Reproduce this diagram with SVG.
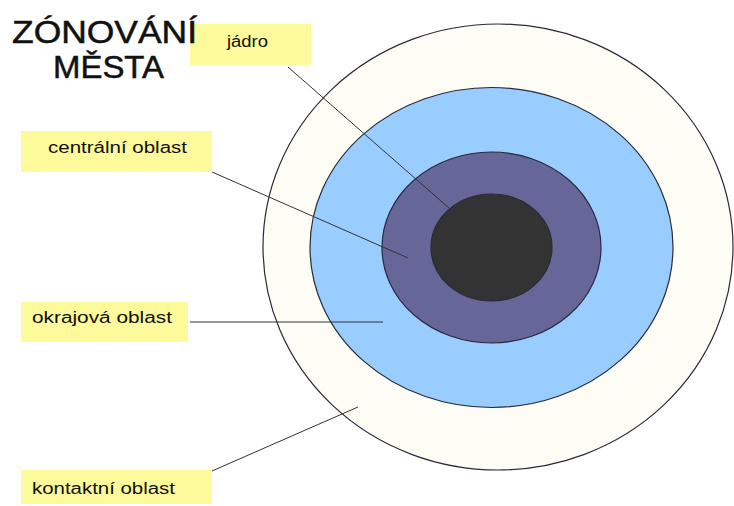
<svg xmlns="http://www.w3.org/2000/svg" width="734" height="506" viewBox="0 0 734 506">
  <style>
    .zone { stroke: #2a2a3a; stroke-width: 1.2; }
    .box { fill: #fdfa9c; }
    .lbl { font-family: "Liberation Sans", Arial, sans-serif; font-size: 16px; fill: #111; }
    .title { font-family: "Liberation Sans", Arial, sans-serif; font-size: 31px; fill: #111; stroke: #111; stroke-width: 0.5; }
    .conn { stroke: #333; stroke-width: 1; fill: none; }
  </style>
  <rect x="0" y="0" width="734" height="506" fill="#ffffff"/>
  <g id="zones">
    <ellipse id="zone-kontaktni" class="zone" cx="498" cy="247" rx="235" ry="223" fill="#fdfdf6"/>
    <ellipse id="zone-okrajova" class="zone" cx="491.5" cy="247.5" rx="181.5" ry="160" fill="#99ccff"/>
    <ellipse id="zone-centralni" class="zone" cx="491.5" cy="247.5" rx="109.5" ry="95.5" fill="#666699"/>
    <ellipse id="zone-jadro" class="zone" cx="491.5" cy="247.5" rx="60.5" ry="53.5" fill="#333333"/>
  </g>
  <g id="connectors">
    <line class="conn" x1="288" y1="67" x2="482" y2="237"/>
    <line class="conn" x1="212" y1="172" x2="408" y2="258"/>
    <line class="conn" x1="190" y1="322" x2="383" y2="322"/>
    <line class="conn" x1="212" y1="471" x2="358" y2="407"/>
  </g>
  <g id="label-jadro">
    <rect class="box" x="190" y="24" width="121" height="41"/>
    <text class="lbl" x="227" y="47" textLength="41" lengthAdjust="spacingAndGlyphs">jádro</text>
  </g>
  <g id="label-centralni">
    <rect class="box" x="21" y="131" width="191" height="41"/>
    <text class="lbl" x="48" y="153" textLength="139" lengthAdjust="spacingAndGlyphs">centrální oblast</text>
  </g>
  <g id="label-okrajova">
    <rect class="box" x="21" y="302" width="167" height="40"/>
    <text class="lbl" x="32" y="323" textLength="140" lengthAdjust="spacingAndGlyphs">okrajová oblast</text>
  </g>
  <g id="label-kontaktni">
    <rect class="box" x="21" y="470" width="191" height="34"/>
    <text class="lbl" x="32" y="494" textLength="143" lengthAdjust="spacingAndGlyphs">kontaktní oblast</text>
  </g>
  <g id="title">
    <text class="title" x="12" y="43" textLength="185" lengthAdjust="spacingAndGlyphs">ZÓNOVÁNÍ</text>
    <text class="title" x="53" y="78" textLength="111" lengthAdjust="spacingAndGlyphs">MĚSTA</text>
  </g>
</svg>
